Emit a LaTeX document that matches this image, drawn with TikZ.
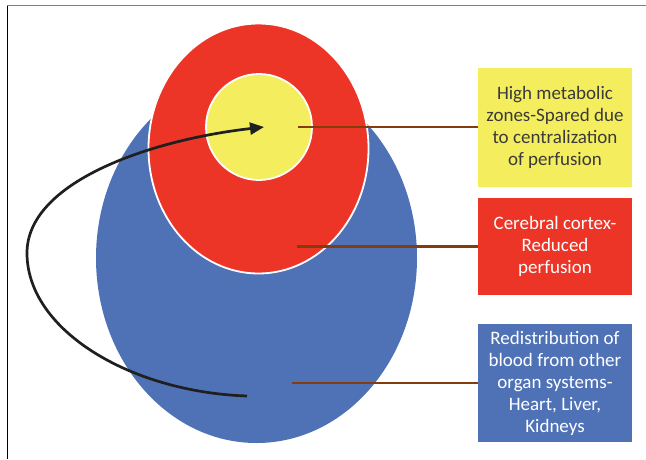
\documentclass[tikz,border=0pt]{standalone}
\usepackage{fontspec}
\setmainfont{Carlito}
\usetikzlibrary{arrows.meta}
\definecolor{cred}{HTML}{EC3526}
\definecolor{cyel}{HTML}{F4EE5E}
\definecolor{cblue}{HTML}{4F72B7}
\definecolor{cbrown}{HTML}{843C0C}
\definecolor{ctext}{HTML}{3A3A3A}
\begin{document}
\begin{tikzpicture}[x=1pt,y=-1pt,
  infobox/.style={minimum width=154pt,inner sep=0pt,align=center,
     font=\fontsize{19}{22}\selectfont},
  leader/.style={cbrown,line width=2.3pt},
  flow/.style={line width=2.7pt,black!88,-{Triangle[length=14pt,width=12pt]}}]
\useasboundingbox (0,0) rectangle (646,459);
% frame
\draw[gray,line width=1.8pt] (7,5.5) -- (646,5.5);
\draw[black,line width=1pt] (7,5.5) -- (7,459);
% ellipses
\fill[cblue] (256.5,258) ellipse [x radius=160.5,y radius=185];
\filldraw[cred,draw=white,line width=1.8pt] (258.5,148.5) ellipse [x radius=110,y radius=125];
\filldraw[cyel,draw=white,line width=1.8pt] (259,127) circle [radius=53];
% boxes
\node[infobox,fill=cyel,text=ctext,minimum height=119pt] (hb) at (555,127.5)
  {High metabolic\\zones-Spared due\\to centralization\\of perfusion};
\node[infobox,fill=cred,text=white,minimum height=97pt] (cb) at (555,246.5)
  {Cerebral cortex-\\Reduced\\perfusion};
\node[infobox,fill=cblue,text=white,minimum height=118pt] (rb) at (555,383)
  {Redistribution of\\blood from other\\organ systems-\\Heart, Liver,\\Kidneys};
% leader lines
\coordinate (l1) at (298,127);
\coordinate (l2) at (297,246.5);
\coordinate (l3) at (292,383);
\draw[leader] (l1) -- (l1 -| hb.west);
\draw[leader] (l2) -- (l2 -| cb.west);
\draw[leader] (l3) -- (l3 -| rb.west);
% flow arrow
\coordinate (s) at (247,396);
\coordinate (m) at (27,253);
\coordinate (t) at (264,127);
\draw[flow] (s) .. controls (130,392) and (27,330) .. (m)
  .. controls (27,182) and (150,140) .. (t);
\end{tikzpicture}
\end{document}
